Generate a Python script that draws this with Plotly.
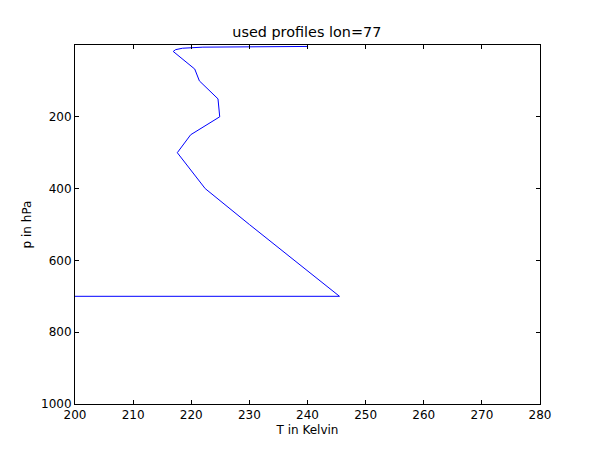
import plotly.graph_objects as go

# profile: pressure levels (hPa) and temperature (K)
pressure = [4, 6, 9, 13, 18, 67, 100, 150, 200, 250, 300, 400, 500, 600, 700, 700]
temperature = [240.1, 222.0, 218.5, 217.3, 216.9, 220.6, 221.4, 224.6, 224.9, 219.9, 217.6, 222.4, 230.0, 237.8, 245.5, 0.0]

x_ticks = [200, 210, 220, 230, 240, 250, 260, 270, 280]
y_ticks = [200, 400, 600, 800, 1000]

fig = go.Figure()
fig.add_trace(go.Scatter(x=temperature, y=pressure, mode="lines",
                         line=dict(color="#0000ff", width=1), showlegend=False))

axis_common = dict(showline=True, linecolor="black", linewidth=1, mirror="allticks",
                   ticks="inside", ticklen=4, tickcolor="black", showgrid=False,
                   zeroline=False, tickfont=dict(family="DejaVu Sans", size=12, color="black"))

fig.update_layout(
    width=600, height=450,
    paper_bgcolor="white", plot_bgcolor="white",
    margin=dict(l=67, r=68, t=37, b=54),
    title=dict(text="used profiles lon=77", x=0.498, xanchor="center", y=0.947, yanchor="middle",
               font=dict(family="DejaVu Sans", size=14.4, color="black")),
    font=dict(family="DejaVu Sans", color="black"),
    xaxis=dict(range=[200, 280], tickvals=x_ticks,
               title=dict(text="T in Kelvin", font=dict(size=12), standoff=4), **axis_common),
    yaxis=dict(range=[1000, 0], tickvals=y_ticks,
               title=dict(text="p in hPa", font=dict(size=12), standoff=6), **axis_common),
)

fig.write_html("out.html")
